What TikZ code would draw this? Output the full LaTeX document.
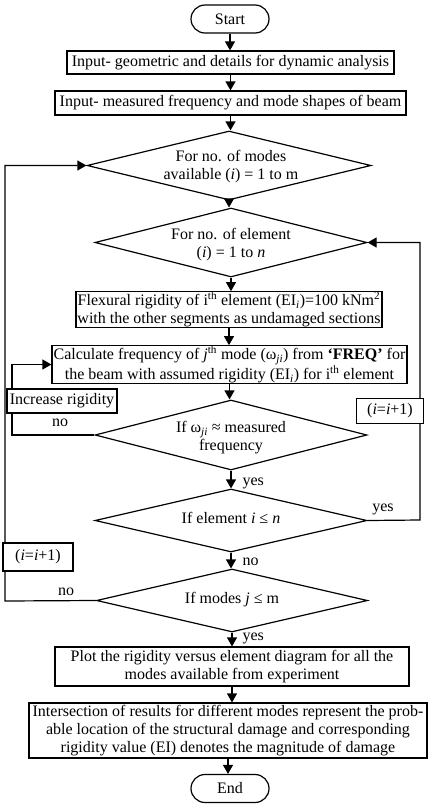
\documentclass[tikz,border=0pt]{standalone}
\usepackage{fontspec}
\setmainfont{Liberation Serif}
\usetikzlibrary{shapes.geometric,arrows.meta}
\begin{document}
\begin{tikzpicture}[x=1pt,y=-1pt,
  font=\fontsize{16}{18}\selectfont,
  line width=1.2pt,
  flow/.style={-{Triangle[length=9pt,width=10pt]}},
  proc/.style={draw, rectangle, align=center, inner sep=0pt},
  dec/.style={draw, diamond, inner sep=0pt},
  dectext/.style={align=center, inner sep=0pt},
  term/.style={draw, rectangle, rounded corners=14pt, minimum width=78pt,
    minimum height=28pt, inner sep=0pt},
  tag/.style={draw, fill=white, rectangle, inner sep=0pt},
  lbl/.style={inner sep=0pt}]
\useasboundingbox (0,0) rectangle (428,808);

% main column
\node[term] (start) at (230,19) {Start};
\node[proc, minimum width=327pt, minimum height=23pt] (in1) at (230.5,62.5)
  {Input- geometric and details for dynamic analysis};
\node[proc, minimum width=351pt, minimum height=24pt] (in2) at (230.5,103)
  {Input- measured frequency and mode shapes of beam};
\node[dec, minimum width=284pt, minimum height=69pt] (modes) at (229,165.5) {};
\node[dectext] (modest) at (231,167) {For no. of modes\\available (\textit{i}) = 1 to m};
\node[dec, minimum width=272pt, minimum height=69pt] (elem) at (231,242.5) {};
\node[dectext] (elemt) at (231,245) {For no. of element\\(\textit{i}) = 1 to \textit{n}};
\node[proc, minimum width=306pt, minimum height=35pt] (flex) at (229,309.5)
  {Flexural rigidity of i\textsuperscript{th} element (EI\textsubscript{\textit{i}})=100 kNm\textsuperscript{2}\\
   with the other segments as undamaged sections};
\node[proc, minimum width=355pt, minimum height=35pt] (calc) at (229.5,364.5)
  {Calculate frequency of \textit{j}\textsuperscript{th} mode (ω\textsubscript{\textit{ji}}) from \textbf{‘FREQ’} for\\
   the beam with assumed rigidity (EI\textsubscript{\textit{i}}) for i\textsuperscript{th} element};
\node[dec, minimum width=272pt, minimum height=70pt] (freq) at (231,435) {};
\node[dectext] (freqt) at (231,438) {If ω\textsubscript{\textit{ji}} ≈ measured\\frequency};
\node[dec, minimum width=272pt, minimum height=63pt] (ifel) at (231,520.5) {};
\node[dectext] (ifelt) at (231,518) {If element \textit{i} ≤ \textit{n}};
\node[dec, minimum width=271pt, minimum height=63pt] (ifmo) at (232,600.5) {};
\node[dectext] (ifmot) at (232,600) {If modes \textit{j} ≤ m};
\node[proc, minimum width=354pt, minimum height=39pt] (plot) at (232,666.5)
  {Plot the rigidity versus element diagram for all the\\modes available from experiment};
\node[proc, minimum width=398pt, minimum height=55pt] (inter) at (228,730.5)
  {Intersection of results for different modes represent the prob-\\
   able location of the structural damage and corresponding\\
   rigidity value (EI) denotes the magnitude of damage};
\node[term] (stop) at (230,788.5) {End};

% straight downward connectors
\foreach \a/\b in {start/in1, in1/in2, in2/modes, modes/elem, elem/flex,
                   flex/calc, calc/freq, freq/ifel, ifel/ifmo, ifmo/plot,
                   plot/inter, inter/stop}
  \draw[flow] (\a.south) -- (\a.south |- \b.north);

\node[lbl, anchor=west] (y1) at (242,483) {yes};
\node[lbl, anchor=west] (n1) at (242,562) {no};
\node[lbl, anchor=west] (y2) at (242,638) {yes};

% rigidity loop (left, inner)
\coordinate (lk) at (12,435);
\draw[flow] (freq.west) -- (lk) |- (calc.west);
\node[tag, minimum width=110pt, minimum height=24pt] (incr) at (62,401) {Increase rigidity};
\node[lbl] (n0) at (60,423) {no};

% element loop (right)
\coordinate (rk) at (420,520);
\draw[flow] (ifel.east) -- (rk) |- (elem.east);
\node[tag, minimum width=67pt, minimum height=25pt] (inci) at (390,411) {(\textit{i}=\textit{i}+1)};
\node[lbl] (y3) at (383,509) {yes};

% mode loop (left, outer)
\coordinate (mk) at (5,601);
\draw[flow] (ifmo.west) -- (mk) |- (modes.west);
\node[tag, minimum width=70pt, minimum height=28pt] (incj) at (38,557) {(\textit{i}=\textit{i}+1)};
\node[lbl] (n2) at (66,592) {no};
\end{tikzpicture}
\end{document}
